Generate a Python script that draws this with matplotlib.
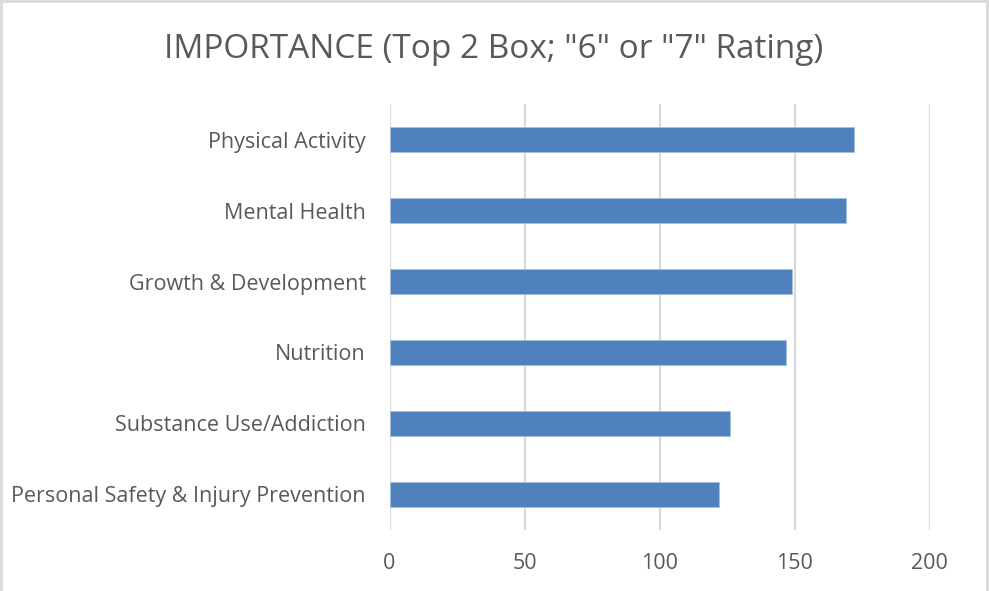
import matplotlib
matplotlib.use("Agg")
import matplotlib.pyplot as plt
from matplotlib.lines import Line2D

categories = ["Physical Activity", "Mental Health", "Growth & Development",
              "Nutrition", "Substance Use/Addiction",
              "Personal Safety & Injury Prevention"]
values = [172, 169, 149, 147, 126, 122]
xticks = [0, 50, 100, 150, 200]
title = 'IMPORTANCE (Top 2 Box; "6" or "7" Rating)'

W, H = 989, 591
fig = plt.figure(figsize=(W / 100, H / 100), dpi=100)
fig.patch.set_facecolor("white")

left, right, top, bottom = 389.5, 929.5, 104.2, 529.8
ax = fig.add_axes([left / W, 1 - bottom / H, (right - left) / W, (bottom - top) / H])

font = "Open Sans"
grey = "#595959"
ypos = list(range(len(categories)))
ax.barh(ypos, values, height=0.35, color="#4f81bd", edgecolor="#a7c0de", linewidth=0.6, zorder=3)
ax.set_ylim(len(categories) - 0.5, -0.5)
ax.set_xlim(0, 200)
ax.set_xticks(xticks)
ax.set_xticklabels([str(t) for t in xticks], fontfamily=font, fontsize=15.5, color=grey)
ax.set_yticks(ypos)
ax.set_yticklabels(categories, fontfamily=font, fontsize=15.5, color=grey)
ax.tick_params(axis="x", length=0, pad=17)
ax.tick_params(axis="y", length=0, pad=17)
ax.grid(axis="x", color="#d9d9d9", linewidth=1.5, zorder=0)
for s in ax.spines.values():
    s.set_visible(False)

fig.text(494 / W, 1 - 50 / H, title, ha="center", va="center",
         fontfamily=font, fontsize=24, color=grey)

# chart border
fig.add_artist(Line2D([1 / W, 1 / W], [0, 1], transform=fig.transFigure, color="#d9d9d9", lw=2))
fig.add_artist(Line2D([0, 986.5 / W], [1 - 1 / H, 1 - 1 / H], transform=fig.transFigure, color="#d9d9d9", lw=2))
fig.add_artist(Line2D([986.5 / W, 986.5 / W], [0, 1 - 1 / H], transform=fig.transFigure, color="#d9d9d9", lw=2))

fig.savefig("out.png", dpi=100)
